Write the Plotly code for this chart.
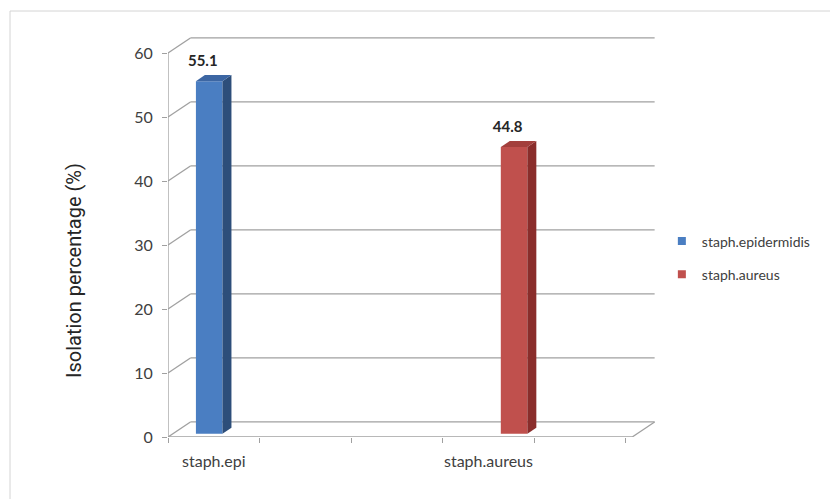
import plotly.graph_objects as go

# ---- data ----
categories = ["staph.epi", "", "", "staph.aureus", ""]
series_names = ["staph.epidermidis", "staph.aureus"]
series_category = [0, 3]
series_values = [55.1, 44.8]
y_ticks = [0, 10, 20, 30, 40, 50, 60]

# ---- style ----
front_colors = ["#4A7EC2", "#C0504D"]
side_colors = ["#2D4E7A", "#8A2D2B"]
top_colors = ["#3C66A3", "#A33F3C"]
series_shift = [-0.05, 0.28]      # offset from slot centre (category units)
bar_w = 0.29
lift = 0.5                         # bars sit slightly back in depth
side_dx, side_dy = 0.098, 0.95     # bar depth projection
wall_dx, wall_dy = 0.245, 2.35     # wall depth projection
floor_right = 5.07
grid_col = "#A0A0A0"
txt_col = "#404040"
font_fam = "Lato"

fig = go.Figure()

# bars (front face) + 3D side and top faces
for i, (name, cat, val) in enumerate(zip(series_names, series_category, series_values)):
    xc = cat + 0.5 + series_shift[i]
    xl, xr = xc - bar_w / 2, xc + bar_w / 2
    top = lift + val
    fig.add_trace(go.Bar(x=[xc], y=[val], base=[lift], width=bar_w,
                         marker=dict(color=front_colors[i], line=dict(width=0)),
                         showlegend=False, hoverinfo="skip"))
    fig.add_trace(go.Scatter(
        x=[xr, xr + side_dx, xr + side_dx, xr, xr],
        y=[lift, lift + side_dy, top + side_dy, top, lift],
        fill="toself", fillcolor=side_colors[i], mode="lines",
        line=dict(width=0, color=side_colors[i]), showlegend=False, hoverinfo="skip"))
    fig.add_trace(go.Scatter(
        x=[xl, xl + side_dx, xr + side_dx, xr, xl],
        y=[top, top + side_dy, top + side_dy, top, top],
        fill="toself", fillcolor=top_colors[i], mode="lines",
        line=dict(width=0, color=top_colors[i]), showlegend=False, hoverinfo="skip"))
    fig.add_trace(go.Scatter(
        x=[xc - 0.07], y=[val + 3.4], mode="text", text=[f"<b>{val}</b>"],
        textfont=dict(family=font_fam, size=15, color="#262626"),
        showlegend=False, hoverinfo="skip"))
    # legend entry
    fig.add_trace(go.Scatter(x=[None], y=[None], mode="markers", name=name,
                             legendgroup=name,
                             marker=dict(symbol="square", size=8, color=front_colors[i])))

shapes = []
# back wall gridlines and diagonals
for v in y_ticks:
    shapes.append(dict(type="line", xref="x", yref="y", x0=wall_dx, y0=v + wall_dy,
                       x1=floor_right + wall_dx, y1=v + wall_dy,
                       line=dict(color=grid_col, width=1.3), layer="below"))
    shapes.append(dict(type="line", xref="x", yref="y", x0=0, y0=v,
                       x1=wall_dx, y1=v + wall_dy,
                       line=dict(color=grid_col, width=1.3), layer="below"))
# front axis line, floor front edge, floor right edge
shapes.append(dict(type="line", xref="x", yref="y", x0=0, y0=0, x1=0, y1=y_ticks[-1],
                   line=dict(color=grid_col, width=1.3), layer="below"))
shapes.append(dict(type="line", xref="x", yref="y", x0=0, y0=0, x1=floor_right, y1=0,
                   line=dict(color=grid_col, width=1.3), layer="below"))
shapes.append(dict(type="line", xref="x", yref="y", x0=floor_right, y0=0,
                   x1=floor_right + wall_dx, y1=wall_dy,
                   line=dict(color=grid_col, width=1.3), layer="below"))
# outer chart border
shapes.append(dict(type="rect", xref="paper", yref="paper",
                   x0=(10 - 168) / 488, x1=(845 - 168) / 488,
                   y0=(437 - 515) / 400, y1=(437 - 11) / 400,
                   line=dict(color="#D4D4D4", width=1), layer="below"))

fig.update_layout(
    width=830, height=499,
    margin=dict(l=168, r=174, t=37, b=62),
    paper_bgcolor="white", plot_bgcolor="white",
    shapes=shapes,
    barmode="overlay",
    font=dict(family=font_fam, color=txt_col, size=15),
    xaxis=dict(range=[0, 5.33], showgrid=False, zeroline=False, showline=False,
               tickvals=[i + 0.5 for i, c in enumerate(categories) if c],
               ticktext=[c for c in categories if c],
               ticks="", ticklabelstandoff=13,
               tickfont=dict(family=font_fam, size=16, color=txt_col),
               minor=dict(tickvals=list(range(len(categories) + 1)), ticks="outside",
                          ticklen=5, tickcolor=grid_col, tickwidth=1.3)),
    yaxis=dict(range=[0, 62.5], showgrid=False, zeroline=False, showline=False,
               tickvals=y_ticks, ticks="outside", ticklen=5, tickcolor=grid_col,
               tickwidth=1.3, ticklabelstandoff=6,
               tickfont=dict(family=font_fam, size=16, color=txt_col)),
    legend=dict(x=1.012, y=0.4475, xanchor="left", yanchor="middle",
                traceorder="grouped", tracegroupgap=12,
                font=dict(family=font_fam, size=14, color=txt_col),
                bgcolor="rgba(0,0,0,0)"),
    annotations=[dict(text="Isolation percentage (%)", xref="paper", yref="paper",
                      x=(74 - 168) / 488, y=(437 - 271) / 400, textangle=-90,
                      showarrow=False, xanchor="center", yanchor="middle",
                      font=dict(family="Roboto", size=20, color="#262626"))],
)

fig.write_html("out.html")
